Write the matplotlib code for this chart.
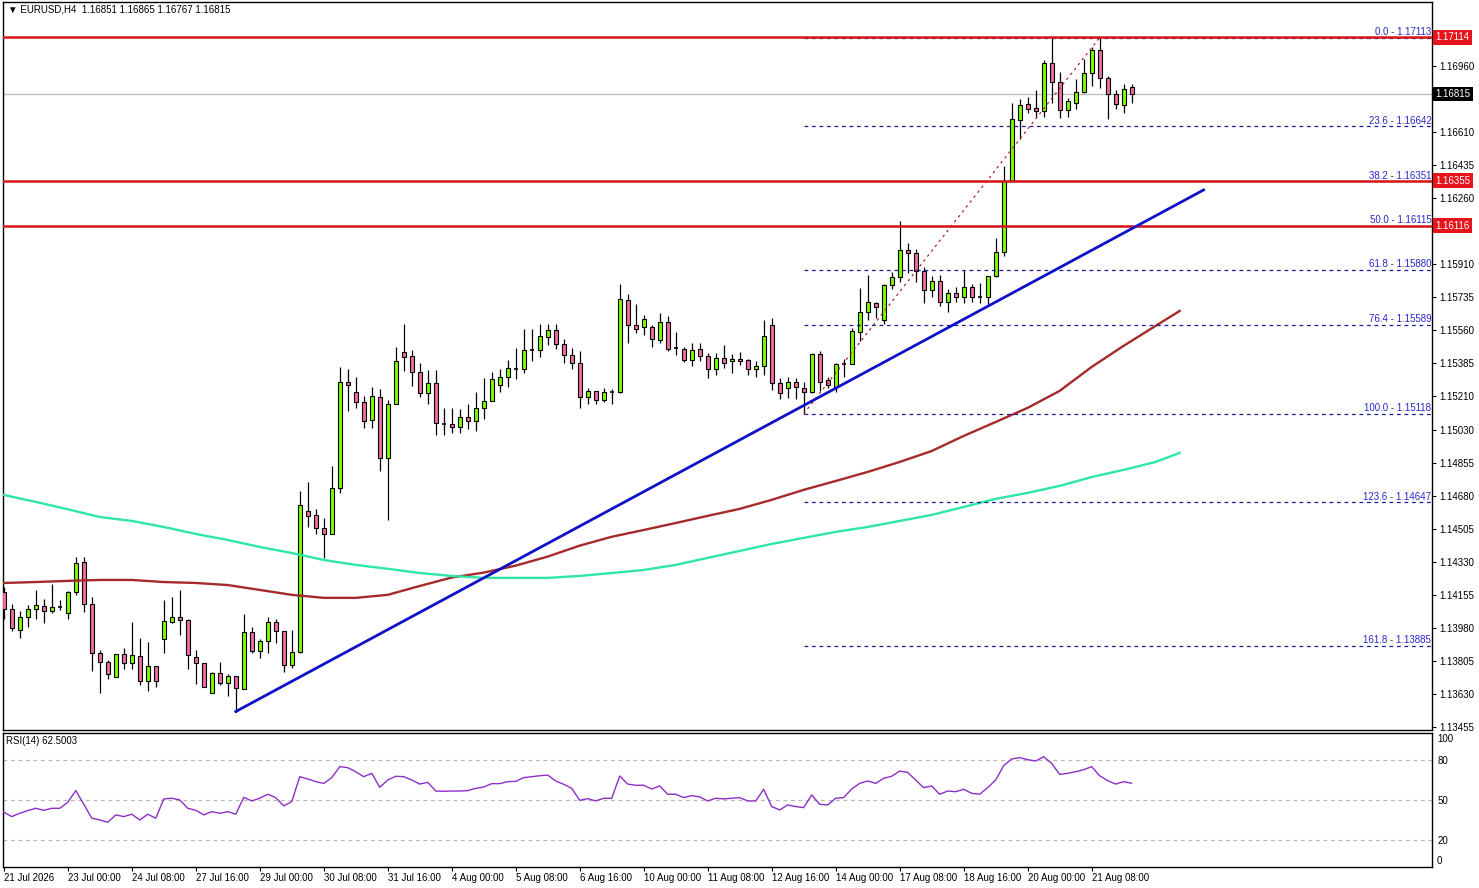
import matplotlib
matplotlib.use("Agg")
import matplotlib.pyplot as plt
import numpy as np

plt.rcParams['font.family'] = ['Liberation Sans', 'DejaVu Sans']

# ---------------- data ----------------
opens = [1.14174,1.14081,1.13971,1.14042,1.14084,1.14098,1.14072,1.14093,1.14059,1.14174,
         1.14330,1.14107,1.13851,1.13799,1.13723,1.13842,1.13794,1.13831,1.13699,1.13778,
         1.13921,1.14015,1.14038,1.14022,1.13829,1.13794,1.13635,1.13741,1.13688,1.13727,
         1.13656,1.13959,1.13861,1.13913,1.14012,1.13966,1.13785,1.13852,1.14600,1.14581,
         1.14510,1.14480,1.14722,1.15285,1.15232,1.15179,1.15083,1.15209,1.14882,1.15168,
         1.15446,1.15423,1.15338,1.15226,1.15279,1.15065,1.15062,1.15050,1.15099,1.15078,
         1.15147,1.15184,1.15269,1.15311,1.15357,1.15354,1.15454,1.15455,1.15524,1.15561,
         1.15486,1.15428,1.15386,1.15205,1.15239,1.15189,1.15233,1.15232,1.15720,1.15587,
         1.15577,1.15577,1.15511,1.15603,1.15465,1.15463,1.15401,1.15460,1.15423,1.15357,
         1.15412,1.15396,1.15407,1.15403,1.15354,1.15371,1.15587,1.15279,1.15253,1.15285,
         1.15253,1.15232,1.15435,1.15295,1.15262,1.15384,1.15382,1.15550,1.15656,1.15704,
         1.15615,1.15799,1.15842,1.15987,1.15969,1.15877,1.15775,1.15822,1.15709,1.15757,
         1.15739,1.15789,1.15737,1.15739,1.15851,1.15974,1.16353,1.16675,1.16760,1.16738,
         1.16722,1.16977,1.16880,1.16728,1.16765,1.16823,1.16924,1.17046,1.16898,1.16813,
         1.16754,1.16851]
highs = [1.14201,1.14109,1.14073,1.14104,1.14183,1.14134,1.14215,1.14127,1.14178,1.14360,
         1.14356,1.14148,1.13865,1.13812,1.13842,1.13875,1.14013,1.13927,1.13907,1.13778,
         1.14130,1.14146,1.14183,1.14031,1.13865,1.13798,1.13748,1.13801,1.13738,1.13727,
         1.14056,1.13985,1.13923,1.14042,1.14029,1.13966,1.13971,1.14708,1.14753,1.14613,
         1.14567,1.14841,1.15364,1.15356,1.15315,1.15212,1.15262,1.15248,1.15191,1.15474,
         1.15592,1.15456,1.15386,1.15350,1.15350,1.15149,1.15149,1.15142,1.15168,1.15232,
         1.15306,1.15338,1.15354,1.15403,1.15467,1.15566,1.15566,1.15592,1.15592,1.15592,
         1.15513,1.15465,1.15451,1.15256,1.15239,1.15256,1.15251,1.15806,1.15753,1.15702,
         1.15642,1.15587,1.15651,1.15637,1.15552,1.15470,1.15492,1.15492,1.15439,1.15439,
         1.15481,1.15433,1.15444,1.15410,1.15396,1.15615,1.15628,1.15306,1.15311,1.15306,
         1.15288,1.15439,1.15451,1.15315,1.15389,1.15407,1.15575,1.15787,1.15854,1.15713,
         1.15806,1.15872,1.16142,1.16026,1.15990,1.15898,1.15851,1.15854,1.15778,1.15792,
         1.15881,1.15807,1.15810,1.15851,1.16049,1.16432,1.16765,1.16788,1.16800,1.16836,
         1.16995,1.17110,1.16933,1.16791,1.16892,1.16998,1.17062,1.17113,1.16910,1.16836,
         1.16867,1.16865]
lows = [1.14027,1.13967,1.13930,1.13985,1.14031,1.14006,1.14063,1.14077,1.14031,1.14157,
        1.14068,1.13755,1.13638,1.13713,1.13720,1.13764,1.13762,1.13677,1.13649,1.13670,
        1.13851,1.14010,1.13944,1.13762,1.13683,1.13667,1.13635,1.13679,1.13621,1.13538,
        1.13656,1.13851,1.13821,1.13851,1.13900,1.13746,1.13768,1.13847,1.14519,1.14478,
        1.14351,1.14480,1.14696,1.15134,1.15150,1.15041,1.15041,1.14814,1.14554,1.15168,
        1.15347,1.15265,1.15205,1.15168,1.15004,1.15007,1.15018,1.15018,1.15035,1.15028,
        1.15089,1.15184,1.15232,1.15262,1.15301,1.15333,1.15400,1.15421,1.15485,1.15463,
        1.15386,1.15357,1.15147,1.15168,1.15172,1.15182,1.15172,1.15226,1.15495,1.15548,
        1.15534,1.15474,1.15495,1.15453,1.15432,1.15394,1.15373,1.15400,1.15309,1.15325,
        1.15363,1.15336,1.15378,1.15325,1.15315,1.15324,1.15244,1.15195,1.15200,1.15195,
        1.15118,1.15226,1.15241,1.15253,1.15235,1.15315,1.15382,1.15504,1.15615,1.15624,
        1.15594,1.15778,1.15819,1.15867,1.15814,1.15704,1.15739,1.15690,1.15660,1.15713,
        1.15704,1.15713,1.15704,1.15700,1.15842,1.15957,1.16353,1.16576,1.16715,1.16694,
        1.16694,1.16768,1.16684,1.16694,1.16735,1.16818,1.16857,1.16844,1.16680,1.16733,
        1.16715,1.16767]
closes = [1.14081,1.13980,1.14038,1.14081,1.14102,1.14073,1.14091,1.14093,1.14171,1.14325,
          1.14107,1.13851,1.13799,1.13736,1.13842,1.13794,1.13837,1.13699,1.13778,1.13699,
          1.14019,1.14038,1.14022,1.13837,1.13798,1.13670,1.13745,1.13688,1.13727,1.13661,
          1.13959,1.13861,1.13913,1.14012,1.13966,1.13785,1.13852,1.14634,1.14577,1.14510,
          1.14480,1.14722,1.15285,1.15269,1.15179,1.15080,1.15214,1.14882,1.15168,1.15398,
          1.15417,1.15338,1.15226,1.15279,1.15067,1.15065,1.15050,1.15099,1.15078,1.15147,
          1.15184,1.15301,1.15311,1.15359,1.15357,1.15455,1.15454,1.15529,1.15561,1.15486,
          1.15428,1.15386,1.15205,1.15239,1.15189,1.15232,1.15233,1.15725,1.15587,1.15569,
          1.15619,1.15513,1.15603,1.15463,1.15465,1.15401,1.15454,1.15423,1.15357,1.15412,
          1.15389,1.15407,1.15396,1.15354,1.15370,1.15531,1.15279,1.15226,1.15285,1.15258,
          1.15235,1.15435,1.15288,1.15269,1.15382,1.15384,1.15557,1.15656,1.15711,1.15686,
          1.15801,1.15842,1.15987,1.15969,1.15877,1.15775,1.15822,1.15709,1.15757,1.15739,
          1.15792,1.15739,1.15737,1.15851,1.15974,1.16353,1.16680,1.16754,1.16737,1.16722,
          1.16977,1.16880,1.16728,1.16777,1.16823,1.16924,1.17046,1.16898,1.16813,1.16760,
          1.16843,1.16815]

rsi = [40.9,37.6,40.1,42.1,43.8,42.3,43.8,43.8,48.3,57.0,
       46.8,36.4,35.1,33.4,38.9,37.6,39.4,35.1,39.4,36.4,
       50.8,51.3,50.0,43.8,42.3,38.9,41.3,40.1,41.3,39.4,
       52.0,49.3,51.3,54.3,51.8,45.6,48.8,67.4,65.7,63.7,
       62.4,66.7,74.9,74.1,71.1,67.4,69.9,59.5,64.9,67.7,
       67.4,64.9,61.9,63.2,56.7,56.5,56.7,56.7,57.0,58.7,
       59.7,62.2,62.2,63.7,63.9,66.7,67.4,68.1,68.6,64.2,
       61.7,58.7,49.8,51.0,49.3,51.3,51.3,67.9,61.9,61.0,
       61.0,58.2,60.5,54.3,54.3,51.8,53.3,52.3,49.3,51.3,
       50.8,51.3,51.8,49.3,49.3,58.0,45.1,42.6,46.3,45.1,
       44.3,53.8,46.8,46.3,51.3,51.8,58.2,62.4,64.2,62.4,
       66.2,67.7,71.6,70.6,64.9,59.2,60.5,54.3,56.7,56.2,
       58.0,55.0,54.3,59.2,64.9,75.6,80.6,81.6,80.1,79.1,
       82.3,77.3,69.1,69.9,71.1,72.6,74.9,68.1,64.4,61.9,
       63.7,62.5]

ma_idx = [0, 4, 8, 12, 16, 20, 24, 28, 32, 36, 40, 44, 48, 52, 56, 60, 64, 68, 72,
          76, 80, 84, 88, 92, 96, 100, 104, 108, 112, 116, 120, 124, 128, 132, 136,
          140, 144, 147]
ma_slow = [1.14220,1.14225,1.14231,1.14236,1.14236,1.14225,1.14220,1.14209,1.14183,1.14157,
           1.14141,1.14141,1.14157,1.14204,1.14249,1.14275,1.14312,1.14360,1.14418,1.14465,
           1.14501,1.14538,1.14576,1.14613,1.14661,1.14714,1.14761,1.14809,1.14862,1.14920,
           1.15000,1.15074,1.15149,1.15239,1.15366,1.15478,1.15584,1.15663]
ma_long = [1.14687,1.14650,1.14611,1.14570,1.14549,1.14517,1.14480,1.14448,1.14411,1.14379,
           1.14342,1.14316,1.14295,1.14273,1.14257,1.14247,1.14247,1.14247,1.14257,1.14273,
           1.14289,1.14316,1.14353,1.14390,1.14427,1.14459,1.14491,1.14517,1.14549,1.14581,
           1.14623,1.14666,1.14698,1.14735,1.14782,1.14820,1.14862,1.14910]

trend_idx = [29, 150]
trend_val = [1.13538, 1.16305]

fib_anchor_idx = [100, 137]
fib_anchor_val = [1.15118, 1.17113]
fib_pct = ['0.0', '23.6', '38.2', '50.0', '61.8', '76.4', '100.0', '123.6', '161.8']
fib_val = [1.17113, 1.16642, 1.16351, 1.16115, 1.15880, 1.15589, 1.15118, 1.14647, 1.13885]

red_levels = [1.17114, 1.16355, 1.16116]
current_price = 1.16815

ytick_vals = [1.16960, 1.16610, 1.16435, 1.16260, 1.15910, 1.15735,
              1.15560, 1.15385, 1.15210, 1.15030, 1.14855, 1.14680, 1.14505, 1.14330, 1.14155,
              1.13980, 1.13805, 1.13630, 1.13455]

xtick_idx = [0, 8, 16, 24, 32, 40, 48, 56, 64, 72, 80, 88, 96, 104, 112, 120, 128, 136]
xtick_lab = ['21 Jul 2026', '23 Jul 00:00', '24 Jul 08:00', '27 Jul 16:00', '29 Jul 00:00',
             '30 Jul 08:00', '31 Jul 16:00', '4 Aug 00:00', '5 Aug 08:00', '6 Aug 16:00',
             '10 Aug 00:00', '11 Aug 08:00', '12 Aug 16:00', '14 Aug 00:00', '17 Aug 08:00',
             '18 Aug 16:00', '20 Aug 00:00', '21 Aug 08:00']

# ---------------- figure ----------------
W, H = 1479, 888
fig = plt.figure(figsize=(W / 100, H / 100), dpi=100)
fig.patch.set_facecolor('white')

def fx(px):
    return px / W

def fy(py):
    return 1 - py / H

ax = fig.add_axes([fx(3), fy(730), fx(1432) - fx(3), fy(2) - fy(730)])
ax2 = fig.add_axes([fx(3), fy(867), fx(1432) - fx(3), fy(733) - fy(867)])

XMIN, XMAX = -0.1, 178.55
ax.set_xlim(XMIN, XMAX)
ax.set_ylim(1.13440, 1.17302)

GREEN = '#7CFC00'
PINK = '#EE6AA7'

n = len(opens)
idx = np.arange(n)
o = np.array(opens); h = np.array(highs); l = np.array(lows); c = np.array(closes)

ax.vlines(idx, l, h, color='black', lw=0.9, zorder=3)
doji = np.abs(c - o) < 0.00002
bull = (c > o) & ~doji
bear = (c < o) & ~doji
bw = 0.5
ax.bar(idx[bull], (c - o)[bull], bottom=o[bull], width=bw, color=GREEN,
       edgecolor='black', linewidth=0.8, zorder=4)
ax.bar(idx[bear], (o - c)[bear], bottom=c[bear], width=bw, color=PINK,
       edgecolor='black', linewidth=0.8, zorder=4)
ax.hlines(c[doji], idx[doji] - bw / 2, idx[doji] + bw / 2, color='black', lw=1.2, zorder=4)

# moving averages
ax.plot(ma_idx, ma_slow, color='#A52A2A', lw=1.7, zorder=5)
ax.plot(ma_idx, ma_long, color='#2EE6A6', lw=1.7, zorder=5)

# current price line
ax.axhline(current_price, color='#C0C0C0', lw=1, zorder=2)

# fib levels
for p, v in zip(fib_pct, fib_val):
    ax.hlines(v, fib_anchor_idx[0], XMAX, color='#1A1A9A', lw=0.9,
              linestyles=(0, (3, 3)), zorder=5)
    ax.text(0.9995, v + 0.00004, f'{p} - {v:.5f}', transform=ax.get_yaxis_transform(),
            ha='right', va='bottom', fontsize=7, color='#2828C8', zorder=7)
ax.plot(fib_anchor_idx, fib_anchor_val, color='#B22222', lw=0.9,
        linestyle=(0, (2, 3)), zorder=5)

# red horizontal levels
for v in red_levels:
    ax.axhline(v, color='#D41616', lw=1.8, zorder=6)

# trend line
ax.plot(trend_idx, trend_val, color='#1010C8', lw=2.0, zorder=6)

# right axis
ax.yaxis.tick_right()
ax.set_yticks(ytick_vals)
ax.set_yticklabels([f'{v:.5f}' for v in ytick_vals])
ax.tick_params(axis='y', direction='out', length=3, width=0.8, labelsize=7, pad=2)
ax.set_xticks([])
for s in ax.spines.values():
    s.set_linewidth(1.0)
    s.set_color('black')

# price boxes
for v in red_levels:
    ax.text(1.0025, v, f'{v:.5f}', transform=ax.get_yaxis_transform(), ha='left', va='center',
            fontsize=7, color='white', zorder=10, clip_on=False,
            bbox=dict(facecolor='#E8141C', edgecolor='none', pad=1.6))
ax.text(1.0025, current_price, f'{current_price:.5f}', transform=ax.get_yaxis_transform(),
        ha='left', va='center', fontsize=7, color='white', zorder=10, clip_on=False,
        bbox=dict(facecolor='black', edgecolor='none', pad=1.6))

fig.text(fx(8), fy(10), '\u25BC EURUSD,H4  1.16851 1.16865 1.16767 1.16815',
         fontsize=7, va='center', ha='left', color='black')

# ---------------- RSI ----------------
ax2.set_xlim(XMIN, XMAX)
ax2.set_ylim(0, 100)
for lv in (80, 50, 20):
    ax2.axhline(lv, color='#B8B8B8', lw=0.9, linestyle=(0, (3, 3)), zorder=1)
ax2.plot(idx, rsi, color='#8E2FC4', lw=1.0, zorder=3)
ax2.yaxis.tick_right()
ax2.set_yticks([20, 50, 80])
ax2.set_yticklabels(['20', '50', '80'])
ax2.tick_params(axis='y', direction='out', length=0, labelsize=7, pad=4)
ax2.text(1.0035, 0.955, '100', transform=ax2.transAxes, ha='left', va='center', fontsize=7)
ax2.text(1.0035, 0.045, '0', transform=ax2.transAxes, ha='left', va='center', fontsize=7)
ax2.set_xticks(xtick_idx)
ax2.set_xticklabels(xtick_lab, ha='left')
ax2.tick_params(axis='x', direction='out', length=3, width=0.8, labelsize=7, pad=1)
for s in ax2.spines.values():
    s.set_linewidth(1.0)
    s.set_color('black')
fig.text(fx(6), fy(741), 'RSI(14) 62.5003', fontsize=7, va='center', ha='left')

fig.savefig('out.png', dpi=100)
